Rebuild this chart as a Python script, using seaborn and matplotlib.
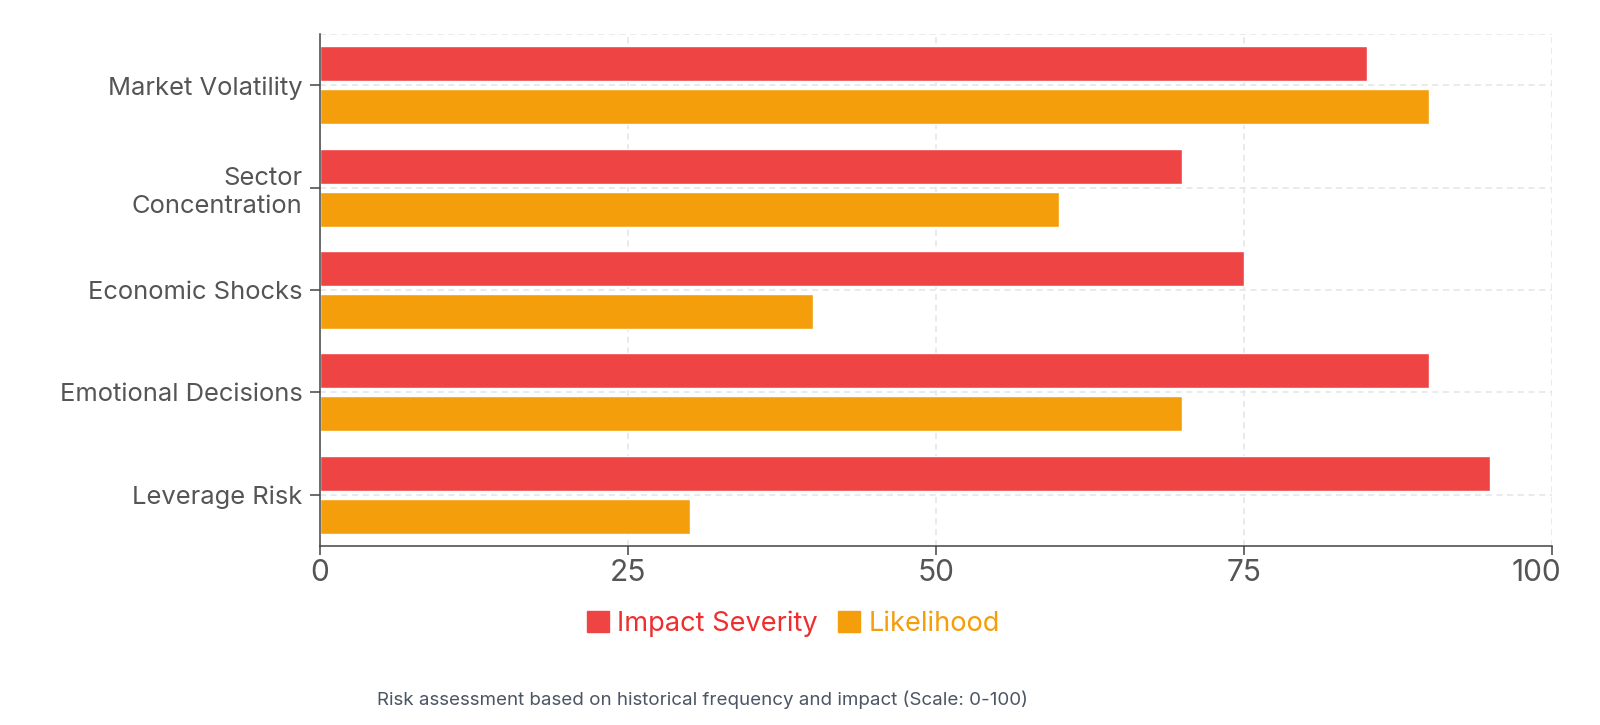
import matplotlib
matplotlib.use("Agg")
import matplotlib.pyplot as plt
import matplotlib.transforms as mtransforms
import seaborn as sns
import pandas as pd
from matplotlib.patches import Patch

categories = ["Market Volatility", "Sector\nConcentration", "Economic Shocks",
              "Emotional Decisions", "Leverage Risk"]
impact_severity = [85, 70, 75, 90, 95]
likelihood = [90, 60, 40, 70, 30]
series_names = ["Impact Severity", "Likelihood"]
series_colors = ["#EF4444", "#F59E0B"]
x_ticks = [0, 25, 50, 75, 100]
footer = "Risk assessment based on historical frequency and impact (Scale: 0-100)"

df = pd.DataFrame({
    "category": categories * 2,
    "value": impact_severity + likelihood,
    "series": [series_names[0]] * len(categories) + [series_names[1]] * len(categories),
})

sns.set_theme(style="white")
plt.rcParams["font.family"] = ["Inter", "DejaVu Sans"]

fig = plt.figure(figsize=(16, 7.25), dpi=100)
ax = fig.add_axes([0.2, 0.247, 0.97 - 0.2, 0.953 - 0.247])

sns.barplot(data=df, y="category", x="value", hue="series", orient="h",
            palette=series_colors, width=0.84, gap=0.19, ax=ax, legend=False,
            order=categories, hue_order=series_names, saturation=1)

ax.set_xlim(0, 100)
ax.set_ylim(4.5, -0.5)
ax.set_xticks(x_ticks)
ax.set_xticklabels([str(t) for t in x_ticks])
ax.set_xlabel("")
ax.set_ylabel("")

ax.grid(True, axis="both", color="#E2E5EA", linestyle=(0, (4, 3)), linewidth=1.1)
ax.set_axisbelow(True)
ax.axhline(-0.5, color="#E2E5EA", linestyle=(0, (4, 3)), linewidth=1.1, zorder=0)

for s in ["top", "right"]:
    ax.spines[s].set_visible(False)
for s in ["left", "bottom"]:
    ax.spines[s].set_color("#444444")
    ax.spines[s].set_linewidth(1.1)

ax.tick_params(axis="y", which="both", left=True, length=7, width=1.1, color="#444444",
               labelsize=18.4, labelcolor="#555555", pad=5.5)
ax.tick_params(axis="x", which="both", bottom=True, length=6.5, width=1.1, color="#444444",
               labelsize=21.5, labelcolor="#555555", pad=3)
for lbl in ax.get_yticklabels():
    lbl.set_horizontalalignment("right")
    lbl.set_multialignment("right")
    lbl.set_linespacing(1.25)

last = ax.get_xticklabels()[-1]
last.set_transform(last.get_transform() +
                   mtransforms.ScaledTranslation(-0.16, 0, fig.dpi_scale_trans))

handles = [Patch(facecolor=c, edgecolor=c) for c in series_colors]
leg = fig.legend(handles, series_names, loc="center", bbox_to_anchor=(0.496, 0.14),
                 ncol=2, frameon=False, fontsize=19.6, handlelength=0.8, handleheight=0.8,
                 handletextpad=0.3, columnspacing=0.75)
for txt, c in zip(leg.get_texts(), ["#EF2E2E", "#F59E0B"]):
    txt.set_color(c)

fig.text(0.439, 0.0345, footer, ha="center", va="center", fontsize=13.5, color="#4B5563")

fig.savefig("out.png", dpi=100)
